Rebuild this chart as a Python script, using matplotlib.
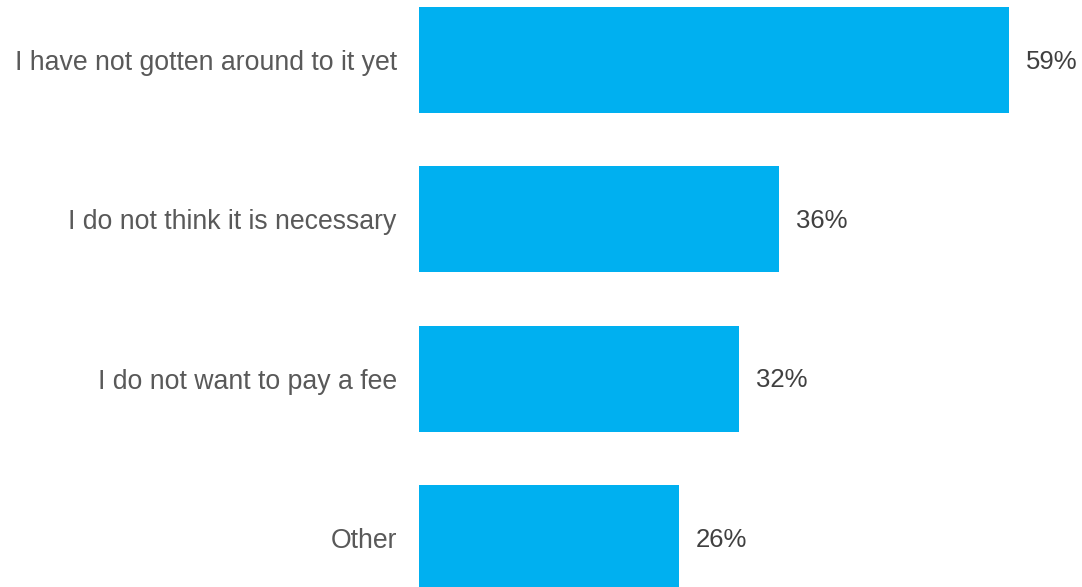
import matplotlib
matplotlib.use("Agg")
import matplotlib.pyplot as plt

categories = ["I have not gotten around to it yet",
              "I do not think it is necessary",
              "I do not want to pay a fee",
              "Other"]
values = [59, 36, 32, 26]
value_labels = ["59%", "36%", "32%", "26%"]

W, H, DPI = 1082, 587, 100
fig = plt.figure(figsize=(W / DPI, H / DPI), dpi=DPI)
ax = fig.add_axes([419 / W, 0, 1 - 419 / W, 1])

pos = list(range(len(categories)))
ax.barh(pos, values, height=0.665, color="#00B0F0")
ax.set_xlim(0, (W - 419) / 10)
ax.set_ylim(3.308, -0.377)

for p, v, lab in zip(pos, values, value_labels):
    ax.text(v + 1.7, p + 0.01, lab, va="center", ha="left", fontsize=18.5,
            color="#404040", family=["Liberation Sans", "DejaVu Sans"])

ax.set_yticks(pos)
ax.set_yticklabels(categories, fontsize=19.2, color="#595959",
                   family=["Liberation Sans", "DejaVu Sans"])
ax.tick_params(axis="y", length=0, pad=16)
ax.set_xticks([])
for s in ax.spines.values():
    s.set_visible(False)

fig.savefig("out.png", dpi=DPI)
